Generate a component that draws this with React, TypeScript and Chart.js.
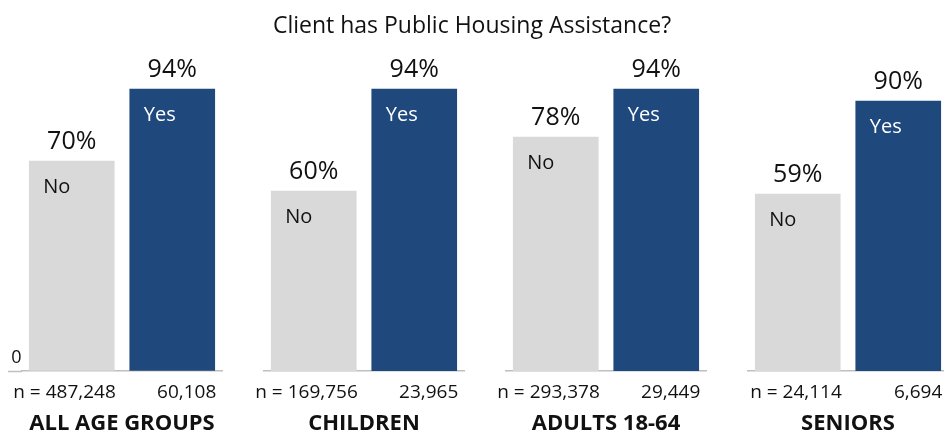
import React, { useEffect, useRef } from 'react';
import { Chart, registerables } from 'chart.js';

Chart.register(...registerables);

const chartTitle = 'Client has Public Housing Assistance?';
const groups = ['ALL AGE GROUPS', 'CHILDREN', 'ADULTS 18-64', 'SENIORS'];
const answers = ['No', 'Yes'];
const noPercents = [70, 60, 78, 59];
const yesPercents = [94, 94, 94, 90];
const noCounts = ['487,248', '169,756', '293,378', '24,114'];
const yesCounts = ['60,108', '23,965', '29,449', '6,694'];
const yTickLabels = [0];

const FAMILY = "'Open Sans', sans-serif";
const TEXT = '#111111';
const GREY = '#D9D9D9';
const BLUE = '#1F497D';
const LINE = '#BFBFBF';

const PANEL_W = 242;
const H = 435;

const barLabels = {
  id: 'barLabels',
  afterDatasetsDraw(chart: any) {
    const ctx = chart.ctx;
    const meta = chart.getDatasetMeta(0);
    const values = chart.data.datasets[0].data as number[];
    meta.data.forEach((bar: any, j: number) => {
      const { x, y, width } = bar.getProps(['x', 'y', 'width'], true);
      ctx.save();
      ctx.font = `25px ${FAMILY}`;
      ctx.fillStyle = TEXT;
      ctx.textAlign = 'center';
      ctx.textBaseline = 'alphabetic';
      ctx.fillText(`${values[j]}%`, x, y - 12.5);
      ctx.font = `20px ${FAMILY}`;
      ctx.fillStyle = j === 0 ? TEXT : '#FFFFFF';
      ctx.textAlign = 'left';
      ctx.fillText(answers[j], x - width / 2 + 14, y + 32);
      ctx.restore();
    });
  },
};

function Panel({ index }: { index: number }) {
  const ref = useRef<HTMLCanvasElement>(null);
  useEffect(() => {
    if (!ref.current) return;
    const isFirst = index === 0;
    const chart = new Chart(ref.current, {
      type: 'bar',
      data: {
        labels: [`n = ${noCounts[index]}`, yesCounts[index]],
        datasets: [
          {
            data: [noPercents[index], yesPercents[index]],
            backgroundColor: [GREY, BLUE],
            borderWidth: 0,
            barThickness: 85,
          },
        ],
      },
      options: {
        responsive: false,
        animation: false,
        devicePixelRatio: 1,
        layout: { padding: { top: 71, right: 19.5, left: isFirst ? 0 : 21.5, bottom: 0 } },
        plugins: {
          legend: { display: false },
          tooltip: { enabled: false },
          title: { display: false },
        },
        scales: {
          x: {
            grid: { display: false, drawTicks: false },
            border: { display: true, color: LINE, width: 1.5 },
            ticks: {
              align: 'end',
              labelOffset: 44,
              padding: 10.6,
              color: TEXT,
              font: { family: FAMILY, size: 19 },
              maxRotation: 0,
              autoSkip: false,
            },
            title: {
              display: true,
              text: groups[index],
              color: TEXT,
              font: { family: FAMILY, size: 22, weight: 'bold', lineHeight: 1 },
              padding: { top: 0, bottom: 0 },
            },
            afterFit: (s: any) => {
              s.height = 64;
              s.paddingLeft = 0;
              s.paddingRight = 0;
            },
          },
          y: {
            display: isFirst,
            min: 0,
            max: 100,
            ticks: {
              stepSize: 100,
              callback: (v: any) => (yTickLabels.includes(Number(v)) ? String(v) : ''),
              labelOffset: -13,
              padding: -13.5,
              color: TEXT,
              font: { family: FAMILY, size: 18 },
            },
            grid: {
              drawOnChartArea: false,
              drawTicks: true,
              tickLength: 13.5,
              tickWidth: 1.5,
              tickColor: (c: any) => (c.tick && c.tick.value === 0 ? LINE : 'rgba(0,0,0,0)'),
            },
            border: { display: false },
            afterFit: (s: any) => {
              s.width = isFirst ? 21.5 : 0;
              s.paddingTop = 0;
              s.paddingBottom = 0;
            },
          },
        },
      } as any,
      plugins: [barLabels],
    });
    return () => chart.destroy();
  }, [index]);
  return (
    <div style={{ position: 'absolute', left: PANEL_W * index, top: 0, width: PANEL_W, height: H }}>
      <canvas ref={ref} width={PANEL_W} height={H} style={{ width: PANEL_W, height: H, display: 'block' }} />
    </div>
  );
}

export default function App() {
  return (
    <div
      style={{
        position: 'absolute',
        left: 0,
        top: 0,
        width: 944,
        height: H,
        overflow: 'hidden',
        background: '#FFFFFF',
      }}
    >
      {groups.map((g, i) => (
        <Panel key={g} index={i} />
      ))}
      <div
        style={{
          position: 'absolute',
          left: 0,
          top: 13,
          width: 944,
          textAlign: 'center',
          fontFamily: FAMILY,
          fontSize: 23,
          lineHeight: '23px',
          color: TEXT,
          whiteSpace: 'nowrap',
        }}
      >
        {chartTitle}
      </div>
    </div>
  );
}
